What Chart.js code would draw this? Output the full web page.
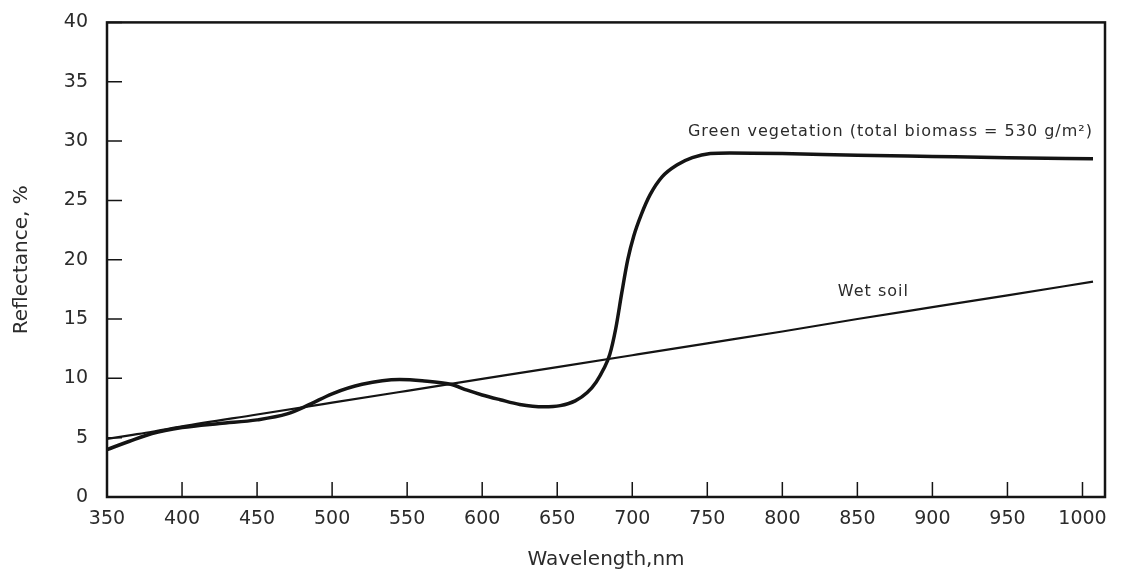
<!DOCTYPE html>
<html>
<head>
<meta charset="utf-8">
<script src="https://cdn.jsdelivr.net/npm/chart.js@4/dist/chart.umd.min.js"></script>
<style>
  html, body { margin: 0; padding: 0; background: #fff; }
  #wrap { width: 1133px; height: 578px; }
</style>
</head>
<body>
<div id="wrap"><canvas id="reflChart" width="1133" height="578"></canvas></div>
<script>
// Reflectance curves
const greenWavelength = [350, 365, 380, 400, 425, 450, 470, 485, 500, 520, 545, 560, 579, 590, 600, 612, 625, 641, 652, 662, 670, 676, 681, 685, 689, 693, 697, 701, 706, 712, 720, 730, 740, 752, 765, 800, 850, 900, 950, 1007];
const greenReflectance = [4.0, 4.7, 5.35, 5.85, 6.2, 6.5, 7.0, 7.8, 8.7, 9.5, 9.9, 9.8, 9.5, 9.0, 8.6, 8.2, 7.8, 7.6, 7.7, 8.1, 8.8, 9.7, 10.8, 12.0, 14.2, 17.2, 20.0, 22.0, 23.8, 25.5, 27.0, 28.0, 28.6, 28.95, 29.0, 28.95, 28.8, 28.7, 28.6, 28.5];

const soilWavelength = [350, 365, 380, 400, 450, 500, 550, 600, 650, 700, 750, 800, 850, 900, 950, 1007];
const soilReflectance = [4.9, 5.2, 5.5, 5.95, 6.95, 7.95, 8.95, 9.95, 10.95, 11.95, 12.95, 13.95, 15.0, 16.0, 17.0, 18.15];

const xTicks = [350, 400, 450, 500, 550, 600, 650, 700, 750, 800, 850, 900, 950, 1000];
const yTicks = [0, 5, 10, 15, 20, 25, 30, 35, 40];

const ink = '#141414';
const textInk = '#2b2b2b';
const tickFont = { family: 'DejaVu Sans', size: 19 };
const titleFont = { family: 'DejaVu Sans', size: 20 };

// box, inward ticks and curve labels
const framePlugin = {
  id: 'frame',
  afterDatasetsDraw(chart) {
    const { ctx, chartArea: a, scales: { x, y } } = chart;
    ctx.save();
    ctx.strokeStyle = ink;
    ctx.lineWidth = 2.5;
    ctx.strokeRect(a.left, a.top, a.right - a.left, a.bottom - a.top);

    ctx.lineWidth = 1.5;
    ctx.beginPath();
    xTicks.forEach(v => {
      const px = x.getPixelForValue(v);
      ctx.moveTo(px, a.bottom);
      ctx.lineTo(px, a.bottom - 15);
    });
    yTicks.forEach(v => {
      const py = y.getPixelForValue(v);
      ctx.moveTo(a.left, py);
      ctx.lineTo(a.left + 15, py);
    });
    ctx.stroke();

    ctx.fillStyle = textInk;
    ctx.font = '16px "DejaVu Sans"';
    ctx.letterSpacing = '1px';
    ctx.textBaseline = 'middle';
    ctx.textAlign = 'right';
    ctx.fillText('Green vegetation (total biomass = 530 g/m²)', x.getPixelForValue(1007), y.getPixelForValue(30.8));
    ctx.textAlign = 'left';
    ctx.fillText('Wet soil', x.getPixelForValue(837), y.getPixelForValue(17.3));
    ctx.restore();
  }
};

const ctx = document.getElementById('reflChart').getContext('2d');
const reflChart = new Chart(ctx, {
  type: 'line',
  data: {
    datasets: [
      {
        label: 'Green vegetation',
        data: greenWavelength.map((w, i) => ({ x: w, y: greenReflectance[i] })),
        borderColor: ink,
        borderWidth: 3.5,
        pointRadius: 0,
        fill: false,
        cubicInterpolationMode: 'monotone'
      },
      {
        label: 'Wet soil',
        data: soilWavelength.map((w, i) => ({ x: w, y: soilReflectance[i] })),
        borderColor: ink,
        borderWidth: 2.2,
        pointRadius: 0,
        fill: false,
        cubicInterpolationMode: 'monotone'
      }
    ]
  },
  options: {
    responsive: false,
    animation: false,
    layout: { padding: { top: 18, right: 28, left: 0, bottom: 0 } },
    plugins: { legend: { display: false }, tooltip: { enabled: false } },
    scales: {
      x: {
        type: 'linear',
        min: 350,
        max: 1015,
        afterBuildTicks: s => { s.ticks = xTicks.map(v => ({ value: v })); },
        afterFit: s => { s.height = 81; },
        grid: { display: false },
        border: { display: false },
        ticks: { padding: 3, font: tickFont, color: textInk, maxRotation: 0, autoSkip: false, callback: v => String(v) },
        title: { display: true, text: 'Wavelength,nm', font: titleFont, color: textInk, padding: { top: 0, bottom: 6 } }
      },
      y: {
        type: 'linear',
        min: 0,
        max: 40,
        afterBuildTicks: s => { s.ticks = yTicks.map(v => ({ value: v })); },
        afterFit: s => { s.width = 107; },
        grid: { display: false },
        border: { display: false },
        ticks: { padding: 11, font: tickFont, color: textInk, autoSkip: false, callback: v => String(v) },
        title: { display: true, text: 'Reflectance, %', font: titleFont, color: textInk, padding: { top: 10, bottom: 0 } }
      }
    }
  },
  plugins: [framePlugin]
});
</script>
</body>
</html>
